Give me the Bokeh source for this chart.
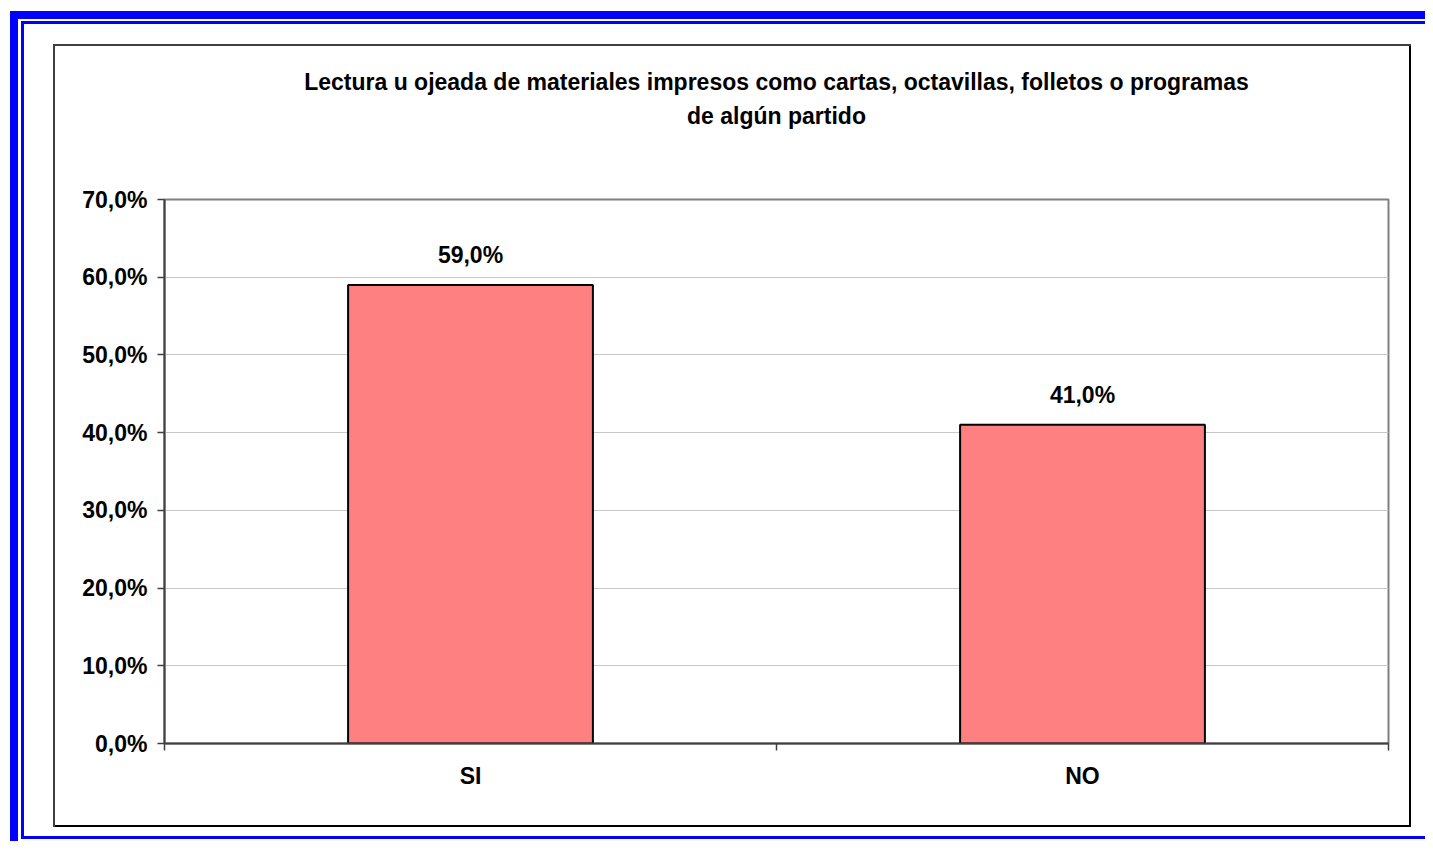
from bokeh.plotting import figure
from bokeh.models import (Range1d, LinearAxis, FixedTicker,
                          ColumnDataSource, LabelSet, Title, Grid)
from bokeh.core.properties import value
from bokeh.embed import file_html
from bokeh.resources import INLINE

# ---- data ----
title_lines = ["Lectura u ojeada de materiales impresos como cartas, octavillas, folletos o programas",
               "de algún partido"]
categories = ["SI", "NO"]
values = [59.0, 41.0]
y_ticks = [0, 10, 20, 30, 40, 50, 60, 70]
y_tick_labels = ["0,0%", "10,0%", "20,0%", "30,0%", "40,0%", "50,0%", "60,0%", "70,0%"]
bar_labels = [f"{v:.1f}%".replace(".", ",") for v in values]

# category slots: centres at i+0.5, boundaries at integers
x_centres = [i + 0.5 for i in range(len(categories))]
x_edges = list(range(len(categories) + 1))

FONT_NAME = "Liberation Sans"
FS = "23px"

# ---- layout (pixels) ----
W, H = 1425, 841
FL, FR, FT, FB = 164, 1388, 199, 743          # plot-area edges

p = figure(width=W, height=H,
           x_range=Range1d(0, len(categories)), y_range=Range1d(0, 70),
           output_backend="svg", toolbar_location=None,
           x_axis_location=None, y_axis_location=None,
           min_border_left=FL, min_border_right=W - FR,
           min_border_top=FT, min_border_bottom=H - FB)
for g in p.grid:
    g.visible = False
p.background_fill_color = "white"
p.border_fill_color = None
p.outline_line_color = "#808080"
p.outline_line_width = 2

# decorative frames drawn as CSS backgrounds behind the (transparent) canvas border
rects = [
    (10, 11, 8, 900, "#0000FF"),     # thick blue band, left
    (10, 11, 1500, 8, "#0000FF"),    # thick blue band, top
    (21, 21, 3, 818, "#0000FF"),     # thin blue line, left
    (21, 21, 1500, 3, "#0000FF"),    # thin blue line, top
    (21, 836, 1500, 3, "#0000FF"),   # thin blue line, bottom
    (53, 44, 2, 783, "#404040"),     # chart box, left
    (53, 44, 1358, 2, "#404040"),    # chart box, top
    (1409, 44, 2, 783, "#000000"),   # chart box, right
    (53, 825, 1358, 2, "#000000"),   # chart box, bottom
]
p.styles = {
    "background-color": "white",
    "background-image": ", ".join(f"linear-gradient({c}, {c})" for *_, c in rects),
    "background-position": ", ".join(f"{x}px {y}px" for x, y, *_ in rects),
    "background-size": ", ".join(f"{w}px {h}px" for _, _, w, h, _ in rects),
    "background-repeat": "no-repeat",
}

# title: second line as the label of an empty top axis (nearest the frame),
# first line as the plot title stacked above it
title_axis = LinearAxis(ticker=FixedTicker(ticks=[]), axis_line_color=None,
                        major_tick_line_color=None, minor_tick_line_color=None,
                        major_tick_out=0, major_tick_in=0,
                        minor_tick_out=0, minor_tick_in=0,
                        major_label_text_font_size="0px", major_label_standoff=0,
                        axis_label=title_lines[1], axis_label_standoff=71,
                        axis_label_text_font=FONT_NAME, axis_label_text_font_size=FS,
                        axis_label_text_font_style="bold", axis_label_text_color="black")
p.add_layout(title_axis, "above")
p.add_layout(Title(text=title_lines[0], align="center", standoff=10,
                   text_font=FONT_NAME, text_font_size=FS, text_font_style="bold",
                   text_color="black"), "above")

# grid
p.add_layout(Grid(dimension=1, ticker=FixedTicker(ticks=y_ticks),
                  grid_line_color="#c8c8c8", grid_line_width=1))

# y axis
yaxis = LinearAxis(ticker=FixedTicker(ticks=y_ticks),
                   major_label_overrides={t: l for t, l in zip(y_ticks, y_tick_labels)},
                   axis_line_color="#404040", axis_line_width=2,
                   major_tick_line_color="#404040", major_tick_line_width=1.5,
                   major_tick_out=7, major_tick_in=0,
                   minor_tick_line_color=None,
                   major_label_text_font=FONT_NAME,
                   major_label_text_font_size=FS, major_label_text_font_style="bold",
                   major_label_text_color="black", major_label_standoff=10)
p.add_layout(yaxis, "left")

# x axis: boundary ticks + category labels
edge_axis = LinearAxis(ticker=FixedTicker(ticks=x_edges),
                       axis_line_color="#404040", axis_line_width=2,
                       major_tick_line_color="#404040", major_tick_line_width=1.5,
                       major_tick_out=7, major_tick_in=0,
                       minor_tick_line_color=None,
                       major_label_text_font_size="0px", major_label_text_color=None,
                       major_label_standoff=0)
p.add_layout(edge_axis, "below")
cat_axis = LinearAxis(ticker=FixedTicker(ticks=x_centres),
                      major_label_overrides={c: n for c, n in zip(x_centres, categories)},
                      axis_line_color=None, major_tick_line_color=None,
                      minor_tick_line_color=None,
                      major_tick_out=0, major_tick_in=0,
                      major_label_text_font=FONT_NAME,
                      major_label_text_font_size=FS, major_label_text_font_style="bold",
                      major_label_text_color="black", major_label_standoff=12)
p.add_layout(cat_axis, "below")

# bars
src = ColumnDataSource(data=dict(x=x_centres, cat=categories, val=values, lab=bar_labels))
p.vbar(x="x", top="val", width=0.4, source=src,
       fill_color="#FF8080", line_color="black", line_width=2)
p.add_layout(LabelSet(x="x", y="val", text="lab", source=src, y_offset=30,
                      text_align="center", text_baseline="middle",
                      text_font=value(FONT_NAME), text_font_size=value(FS),
                      text_font_style="bold", text_color="black"))

open("out.html", "w").write(file_html(p, INLINE))
